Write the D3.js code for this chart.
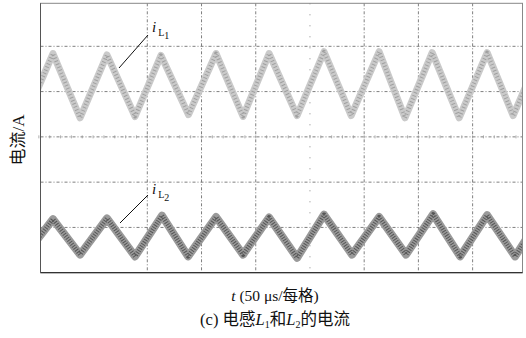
<!DOCTYPE html>
<html><head><meta charset="utf-8">
<script src="https://cdn.jsdelivr.net/npm/d3@7"></script>
<style>body{margin:0;background:#fff}</style>
</head><body>
<script>
// time of waveform vertices (μs) and value (divisions)
const upperT = [-11.9, 13.0, 38.0, 62.8, 88.7, 112.6, 138.0, 163.4, 188.3, 212.3, 238.1, 263.0, 288.0, 313.8, 337.6, 362.7, 387.6, 413.4, 437.4, 462.3];
const upperV = [3.46, 4.84, 3.42, 4.81, 3.45, 4.80, 3.49, 4.84, 3.45, 4.84, 3.47, 4.88, 3.47, 4.88, 3.42, 4.86, 3.42, 4.86, 3.47, 4.85];
const lowerT = [-11.9, 13.0, 38.0, 62.8, 88.7, 113.5, 137.6, 163.4, 188.3, 212.3, 238.1, 263.0, 288.8, 313.8, 338.6, 363.6, 388.5, 413.4, 439.2, 463.2];
const lowerV = [0.41, 1.18, 0.40, 1.20, 0.36, 1.26, 0.36, 1.23, 0.40, 1.22, 0.33, 1.28, 0.40, 1.23, 0.40, 1.29, 0.36, 1.27, 0.36, 1.25];
const vGridT = [100, 150, 200, 300, 350, 400];
const vCenterT = [250];
const hGridV = [1, 2, 4, 5];
const hCenterV = [3];
const xLabel = "(50 μs/每格)";
const yLabel = "电流/A";

const W = 526, H = 338;
const L = 40.5, R = 522.5, T = 3.3, B = 272.7;
const svg = d3.select("body").append("svg").attr("width", W).attr("height", H);
const x = d3.scaleLinear().domain([1.5, 446]).range([L, R]);
const y = d3.scaleLinear().domain([0, 5.95]).range([B, T]);

svg.append("clipPath").attr("id", "clip").append("rect")
  .attr("x", L).attr("y", T).attr("width", R - L).attr("height", B - T);

const g = svg.append("g");
// grid
g.selectAll(".vg").data(vGridT).join("line")
  .attr("x1", d => x(d)).attr("x2", d => x(d)).attr("y1", T).attr("y2", B)
  .attr("stroke", "#707070").attr("stroke-width", 0.9).attr("stroke-dasharray", "3,2,1,2");
g.selectAll(".vc").data(vCenterT).join("line")
  .attr("x1", d => x(d)).attr("x2", d => x(d)).attr("y1", T).attr("y2", B)
  .attr("stroke", "#888").attr("stroke-width", 1).attr("stroke-dasharray", "1,10");
g.selectAll(".hg").data(hGridV).join("line")
  .attr("x1", L).attr("x2", R).attr("y1", d => y(d)).attr("y2", d => y(d))
  .attr("stroke", "#707070").attr("stroke-width", 0.9).attr("stroke-dasharray", "3,2,1,2");
g.selectAll(".hc").data(hCenterV).join("line")
  .attr("x1", L).attr("x2", R).attr("y1", d => y(d)).attr("y2", d => y(d))
  .attr("stroke", "#707070").attr("stroke-width", 0.9).attr("stroke-dasharray", "3,2,1,2");
// minor ticks on center horizontal line
const minor = d3.range(0, 446, 10);
g.selectAll(".mt").data(minor).join("line")
  .attr("x1", d => x(d)).attr("x2", d => x(d))
  .attr("y1", y(hCenterV[0]) - 1.5).attr("y2", y(hCenterV[0]) + 1.5)
  .attr("stroke", "#999").attr("stroke-width", 0.8);

const line = d3.line().x(d => x(d[0])).y(d => y(d[1]));
const up = upperT.map((t, i) => [t, upperV[i]]);
const lo = lowerT.map((t, i) => [t, lowerV[i]]);
const wav = svg.append("g").attr("clip-path", "url(#clip)");
wav.append("path").attr("d", line(up)).attr("fill", "none")
  .attr("stroke", "#cacaca").attr("stroke-width", 7).attr("stroke-linejoin", "round");
wav.append("path").attr("d", line(up)).attr("fill", "none")
  .attr("stroke", "#a0a0a0").attr("stroke-width", 4).attr("stroke-dasharray", "1,2.3").attr("stroke-linejoin", "round");
wav.append("path").attr("d", line(lo)).attr("fill", "none")
  .attr("stroke", "#9a9a9a").attr("stroke-width", 8).attr("stroke-linejoin", "round");
wav.append("path").attr("d", line(lo)).attr("fill", "none")
  .attr("stroke", "#555").attr("stroke-width", 4.5).attr("stroke-dasharray", "1,1.5").attr("stroke-linejoin", "round");

// frame
svg.append("rect").attr("x", L).attr("y", T).attr("width", R - L).attr("height", B - T)
  .attr("fill", "none").attr("stroke", "#888").attr("stroke-width", 1);
svg.append("line").attr("x1", L).attr("x2", R).attr("y1", B).attr("y2", B).attr("stroke", "#333").attr("stroke-width", 1.2);
svg.append("line").attr("x1", L).attr("x2", L).attr("y1", T).attr("y2", B).attr("stroke", "#555").attr("stroke-width", 1);

// series labels with leader lines
function lab(tx, ty, sub2, lx1, ly1, lx2, ly2) {
  svg.append("line").attr("x1", lx1).attr("y1", ly1).attr("x2", lx2).attr("y2", ly2)
    .attr("stroke", "#111").attr("stroke-width", 1);
  const t = svg.append("text").attr("x", tx).attr("y", ty)
    .attr("font-family", "'Liberation Serif', serif").attr("fill", "#111");
  t.append("tspan").attr("font-style", "italic").attr("font-size", 15).text("i");
  t.append("tspan").attr("font-size", 10).attr("dy", 4).attr("dx", 2).text("L");
  t.append("tspan").attr("font-size", 10).attr("dy", 3).text(sub2);
}
lab(152, 32, "1", 148, 35, 119, 68);
lab(152, 194, "2", 148, 195, 120, 223);

// axis labels
const xl = svg.append("text").attr("x", 275).attr("y", 301).attr("text-anchor", "middle")
  .attr("font-family", "'Liberation Serif','Noto Sans CJK SC', serif").attr("font-size", 15.5).attr("fill", "#111");
xl.append("tspan").attr("font-style", "italic").text("t");
xl.append("tspan").text(" " + xLabel);

svg.append("text").attr("transform", "translate(24,140) rotate(-90)").attr("text-anchor", "middle")
  .attr("font-family", "'Liberation Serif','Noto Sans CJK SC', serif").attr("font-size", 17).attr("fill", "#111")
  .text(yLabel);

const cap = svg.append("text").attr("x", 275).attr("y", 325).attr("text-anchor", "middle")
  .attr("font-family", "'Liberation Serif','Noto Sans CJK SC', serif").attr("font-size", 16.5).attr("fill", "#111");
cap.append("tspan").text("(c) 电感");
cap.append("tspan").attr("font-style", "italic").text("L");
cap.append("tspan").attr("font-size", 10).attr("dy", 3).text("1");
cap.append("tspan").attr("dy", -3).text("和");
cap.append("tspan").attr("font-style", "italic").text("L");
cap.append("tspan").attr("font-size", 10).attr("dy", 3).text("2");
cap.append("tspan").attr("dy", -3).text("的电流");
</script>
</body></html>
